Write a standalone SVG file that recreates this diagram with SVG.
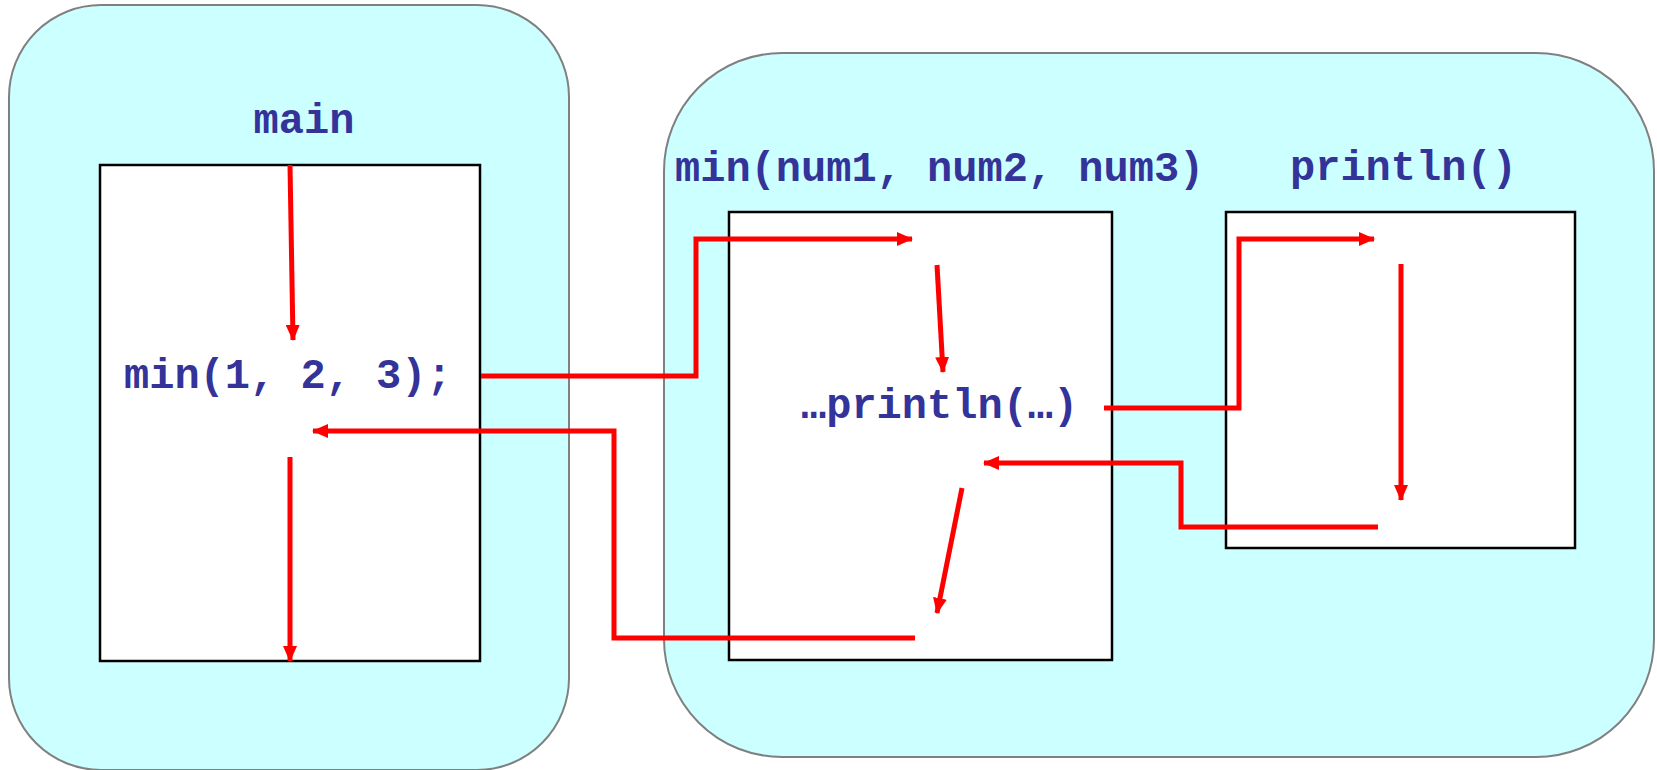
<svg xmlns="http://www.w3.org/2000/svg" width="1657" height="770" viewBox="0 0 1657 770">
<style>
.panel{fill:#CCFFFF;stroke:#808080;stroke-width:2}
.box{fill:#FFFFFF;stroke:#000000;stroke-width:2.5}
.lbl{font-family:"Liberation Mono","Courier New",monospace;font-weight:bold;font-size:42px;fill:#333399}
.flow{fill:none;stroke:#FF0000;stroke-width:5;stroke-linejoin:miter}
.arr{marker-end:url(#ah)}
</style>
<defs>
<marker id="ah" markerUnits="userSpaceOnUse" markerWidth="16" markerHeight="14" refX="15" refY="7" orient="auto">
<path d="M0,0 L16,7 L0,14 z" fill="#FF0000"/>
</marker>
</defs>
<rect width="1657" height="770" fill="#FFFFFF"/>
<g id="main-frame">
<rect class="panel" x="9" y="5" width="560" height="765" rx="92" ry="92"/>
<text class="lbl" x="304" y="133" text-anchor="middle">main</text>
</g>
<g id="call-frame">
<rect class="panel" x="664" y="53" width="990" height="704" rx="118" ry="118"/>
</g>
<g id="main-body">
<rect class="box" x="100" y="165" width="380" height="496"/>
<text class="lbl" x="124" y="388">min(1, 2, 3);</text>
</g>
<g id="min-body">
<text class="lbl" x="675" y="181">min(num1, num2, num3)</text>
<rect class="box" x="729" y="212" width="383" height="448"/>
<text class="lbl" x="801" y="418">…println(…)</text>
</g>
<g id="println-body">
<text class="lbl" x="1290" y="180">println()</text>
<rect class="box" x="1226" y="212" width="349" height="336"/>
</g>
<g id="connectors">
<path class="flow arr" d="M290,165 L293,340"/>
<path class="flow arr" d="M481,376 H696 V239 H912"/>
<path class="flow arr" d="M937,265 L943,372"/>
<path class="flow arr" d="M1104,408 H1239 V239 H1374"/>
<path class="flow arr" d="M1401,264 V500"/>
<path class="flow arr" d="M1378,527 H1181 V463 H984"/>
<path class="flow arr" d="M962,488 L937,613"/>
<path class="flow arr" d="M915,638 H614 V431 H313"/>
<path class="flow arr" d="M290,457 V661"/>
</g>
</svg>
